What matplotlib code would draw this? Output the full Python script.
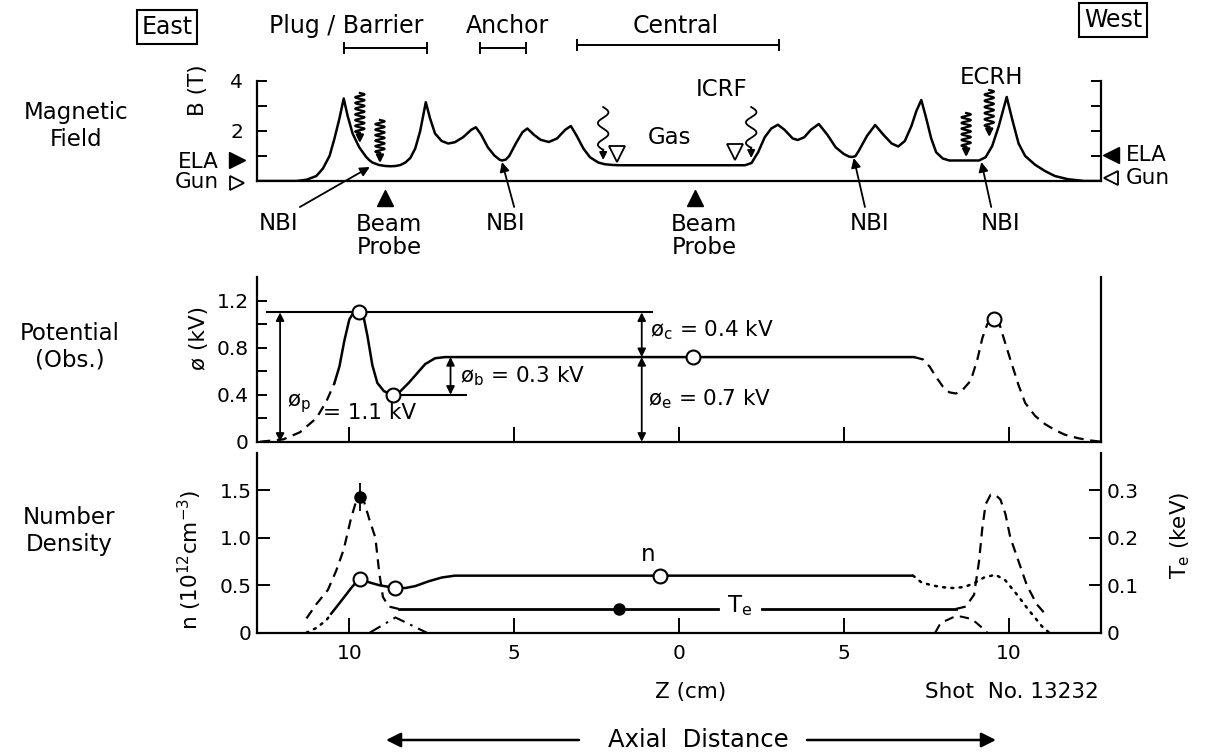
import numpy as np
import matplotlib
matplotlib.use('Agg')
import matplotlib.pyplot as plt

plt.rcParams['font.family'] = 'DejaVu Sans'
plt.rcParams['mathtext.fontset'] = 'dejavusans'

W, H = 1207, 756

# ---- magnetic field profile (z in cm, east < 0) ----
z_b = [-12.8, -11.6, -11.3, -11.0, -10.8, -10.6, -10.45, -10.3, -10.17, -10.05, -9.9, -9.7,
       -9.5, -9.4, -9.3, -9.1, -8.9, -8.75, -8.6, -8.45, -8.3, -8.15, -8.0, -7.85, -7.68,
       -7.55, -7.4, -7.2, -7.0, -6.8, -6.55, -6.3, -6.16, -6.0, -5.8, -5.6, -5.45, -5.37,
       -5.25, -5.15, -4.95, -4.75, -4.6, -4.4, -4.2, -3.95, -3.7, -3.45, -3.28, -3.1, -2.9,
       -2.7, -2.45, -2.25, -2.0, -1.8, 2.0, 2.2, 2.4, 2.6, 2.8, 3.0, 3.2, 3.45, 3.6, 3.8,
       4.0, 4.24, 4.5, 4.75, 5.0, 5.15, 5.24, 5.35, 5.45, 5.7, 5.95, 6.2, 6.45, 6.65, 6.85,
       7.05, 7.2, 7.35, 7.5, 7.65, 7.8, 8.0, 8.2, 9.1, 9.3, 9.5, 9.7, 9.94, 10.1, 10.3,
       10.5, 10.8, 11.1, 11.4, 11.8, 12.3, 12.8]
b_t = [0.0, 0.0, 0.05, 0.2, 0.5, 1.0, 1.7, 2.5, 3.3, 2.6, 1.9, 1.35,
       0.98, 0.84, 0.74, 0.64, 0.6, 0.59, 0.6, 0.64, 0.74, 0.92, 1.3, 2.0, 3.15,
       2.5, 1.9, 1.6, 1.5, 1.55, 1.75, 2.05, 2.15, 1.85, 1.35, 1.02, 0.86, 0.82,
       0.86, 1.0, 1.5, 1.95, 2.1, 1.85, 1.65, 1.56, 1.7, 2.05, 2.2, 1.8, 1.3,
       0.95, 0.74, 0.67, 0.64, 0.63, 0.63, 0.72, 1.15, 1.75, 2.1, 2.25, 2.05, 1.7, 1.64, 1.75,
       2.05, 2.28, 1.85, 1.35, 1.08, 0.98, 0.96, 0.99, 1.2, 1.8, 2.24, 1.85, 1.5, 1.38, 1.6,
       2.2, 2.8, 3.24, 2.5, 1.7, 1.15, 0.9, 0.82, 0.82, 0.95, 1.4, 2.2, 3.36, 2.5, 1.5,
       1.0, 0.65, 0.4, 0.2, 0.07, 0.0, 0.0]

# ---- potential (kV) ----
z_phi_east = [-12.7, -12.0, -11.5, -11.0, -10.7, -10.45]
phi_east = [0.0, 0.02, 0.08, 0.2, 0.34, 0.5]
z_phi_mid = [-10.45, -10.3, -10.15, -10.0, -9.85, -9.7, -9.58, -9.45, -9.3, -9.15, -8.95, -8.7,
             -8.45, -8.2, -7.95, -7.7, -7.4, -7.1, 7.13]
phi_mid = [0.5, 0.64, 0.86, 1.04, 1.11, 1.12, 1.08, 0.9, 0.65, 0.5, 0.43, 0.4,
           0.43, 0.5, 0.58, 0.66, 0.71, 0.72, 0.72]
z_phi_west = [7.13, 7.4, 7.6, 7.8, 8.0, 8.2, 8.4, 8.6, 8.85, 9.05, 9.2, 9.35, 9.53, 9.7,
              9.85, 10.05, 10.3, 10.5, 10.8, 11.1, 11.4, 11.7, 12.1, 12.5, 12.8]
phi_west = [0.72, 0.7, 0.64, 0.55, 0.47, 0.42, 0.41, 0.44, 0.52, 0.7, 0.88, 1.0, 1.06, 1.02,
            0.88, 0.7, 0.48, 0.33, 0.22, 0.15, 0.1, 0.06, 0.03, 0.01, 0.0]
z_phi_obs = [-9.7, -8.68, 0.43, 9.55]
phi_obs = [1.1, 0.4, 0.72, 1.04]

# ---- density (1e12 cm^-3) ----
z_n_east = [-11.3, -11.0, -10.7, -10.55]
n_east = [0.0, 0.05, 0.13, 0.2]
z_n_mid = [-10.55, -10.3, -9.92, -9.69, -9.4, -9.1, -8.6, -8.3, -8.0, -7.6, -7.2, -6.8, 7.07]
n_mid = [0.2, 0.31, 0.48, 0.57, 0.53, 0.5, 0.47, 0.47, 0.49, 0.54, 0.58, 0.6, 0.6]
z_n_west = [7.1, 7.35, 7.65, 7.95, 8.3, 8.65, 8.95, 9.25, 9.6, 9.9, 10.3, 10.6, 10.77, 11.0, 11.23]
n_west = [0.6, 0.53, 0.5, 0.48, 0.47, 0.48, 0.52, 0.58, 0.61, 0.55, 0.38, 0.24, 0.17, 0.07, 0.0]
z_n_obs = [-9.69, -8.6, -0.58]
n_obs = [0.57, 0.47, 0.6]

# ---- electron temperature (keV) ----
z_te_east = [-11.3, -11.0, -10.65, -10.4, -10.17, -9.95, -9.8, -9.69, -9.55, -9.4, -9.21,
             -9.09, -8.98, -8.8, -8.5]
te_east = [0.03, 0.06, 0.09, 0.13, 0.175, 0.24, 0.275, 0.285, 0.275, 0.24, 0.2,
           0.125, 0.075, 0.055, 0.05]
z_te_flat_a = [-8.5, 1.18]
z_te_flat_b = [2.53, 8.4]
te_flat = [0.05, 0.05]
z_te_west = [8.4, 8.7, 8.95, 9.1, 9.2, 9.3, 9.45, 9.6, 9.75, 9.9, 10.05, 10.3, 10.55, 10.85, 11.1]
te_west = [0.05, 0.055, 0.08, 0.15, 0.22, 0.27, 0.29, 0.29, 0.28, 0.25, 0.2, 0.15, 0.1, 0.06, 0.04]
z_te_obs = [-9.69, -1.82]
te_obs = [0.285, 0.05]

# small bumps near the barriers
z_bump_e = [-9.38, -8.6, -7.65]
n_bump_e = [0.0, 0.16, 0.0]
z_bump_w = [7.77, 7.9, 8.05, 8.3, 8.55, 8.8, 9.0, 9.2, 9.35]
n_bump_w = [0.0, 0.08, 0.12, 0.16, 0.17, 0.15, 0.11, 0.05, 0.0]

xticks = [-10, -5, 0, 5, 10]
xticklabels = ['10', '5', '0', '5', '10']


def px(x, y):
    return x / W, 1 - y / H


def box(top, bottom, left=257, right=1101):
    return [left / W, 1 - bottom / H, (right - left) / W, (bottom - top) / H]


fig = plt.figure(figsize=(W / 100, H / 100), dpi=100)
ax1 = fig.add_axes(box(81, 181))
ax2 = fig.add_axes(box(276.7, 441.7))
ax3 = fig.add_axes(box(453, 632.7))
for ax in (ax1, ax2, ax3):
    ax.set_xlim(-12.8, 12.8)
    ax.spines['top'].set_visible(False)
    for s in ax.spines.values():
        s.set_linewidth(1.6)
    ax.tick_params(direction='in', width=1.4, labelsize=14.5)
    ax.patch.set_alpha(0)

K = 'k'
arrow_kw = dict(arrowstyle='-|>', color=K, lw=1.3, mutation_scale=14, shrinkA=0, shrinkB=0)
dbl_kw = dict(arrowstyle='<|-|>', color=K, lw=1.3, mutation_scale=12, shrinkA=0, shrinkB=0)

# ---------------- magnetic field ----------------
ax1.set_ylim(0, 4)
ax1.plot(z_b, b_t, color=K, lw=1.8)
ax1.set_xticks([])
ax1.set_yticks([1, 2, 3, 4])
ax1.set_yticklabels(['', '2', '', '4'])
ax1.tick_params(axis='y', length=7, pad=10, right=True)


def wavy(ax, z, top, bot, amp, waves, lw=1.3):
    # decorative squiggly arrow (RF / ECRH injection symbol)
    head = 0.4
    t = np.linspace(0, 1, 400)
    bb = top - (top - bot - head) * t
    zz = z + amp * np.sin(2 * np.pi * waves * t)
    ax.plot(zz, bb, color=K, lw=lw, clip_on=False)
    ax.annotate('', xy=(z, bot), xytext=(z, bot + head + 0.02),
                arrowprops=dict(arrowstyle='-|>', color=K, lw=lw, mutation_scale=11,
                                shrinkA=0, shrinkB=0), annotation_clip=False)


# ECRH squiggles
wavy(ax1, -9.68, 3.52, 1.52, 0.14, 7, lw=1.6)
wavy(ax1, -9.07, 2.44, 0.72, 0.14, 6, lw=1.6)
wavy(ax1, 8.71, 2.72, 0.96, 0.14, 6, lw=1.6)
wavy(ax1, 9.41, 3.64, 1.76, 0.14, 6, lw=1.6)
# ICRF
wavy(ax1, -2.3, 2.96, 0.84, 0.16, 2)
wavy(ax1, 2.19, 2.96, 0.92, 0.16, 2)
ax1.plot([-1.88, 1.7], [1.08, 1.16], 'v', ms=11, mfc='white', mec=K, mew=1.3, ls='none')
ax1.text(1.3, 3.64, 'ICRF', ha='center', va='center', fontsize=16.5)
ax1.text(-0.3, 1.76, 'Gas', ha='center', va='center', fontsize=16.5)
ax1.text(9.47, 4.16, 'ECRH', ha='center', va='center', fontsize=16.5)

# NBI and beam probes
for (tz, az0, bz, bb) in [(-12.15, -11.5, -9.38, 0.56), (-5.25, -5.0, -5.37, 0.76),
                          (5.77, 5.64, 5.3, 0.92), (9.74, 9.47, 9.17, 0.76)]:
    ax1.annotate('', xy=(bz, bb), xytext=(az0, -1.04), arrowprops=arrow_kw,
                 annotation_clip=False)
    ax1.text(tz, -1.68, 'NBI', ha='center', va='center', fontsize=16.5)
for z0, tz in [(-8.92, -8.8), (0.49, 0.76)]:
    ax1.plot(z0, -0.66, '^', ms=11, color=K, clip_on=False)
    ax1.text(tz, -2.2, 'Beam\nProbe', ha='center', va='center', fontsize=16.5,
             linespacing=1.05)

# ELA / Gun markers
ax1.plot(-13.4, 0.84, '>', ms=11, color=K, clip_on=False)
ax1.plot(-13.4, -0.06, '>', ms=10, mfc='white', mec=K, mew=1.3, clip_on=False)
ax1.text(-13.95, 0.76, 'ELA', ha='right', va='center', fontsize=15.5)
ax1.text(-13.95, -0.06, 'Gun', ha='right', va='center', fontsize=15.5)
ax1.plot(13.1, 1.04, '<', ms=11, color=K, clip_on=False)
ax1.plot(13.1, 0.12, '<', ms=10, mfc='white', mec=K, mew=1.3, clip_on=False)
ax1.text(13.55, 1.04, 'ELA', ha='left', va='center', fontsize=15.5)
ax1.text(13.55, 0.12, 'Gun', ha='left', va='center', fontsize=15.5)

# region brackets
for (a, b, y) in [(-10.17, -7.65, 5.32), (-6.04, -4.64, 5.32), (-3.1, 3.03, 5.44)]:
    ax1.plot([a, b], [y, y], color=K, lw=1.4, marker='|', ms=8, mew=1.4, clip_on=False)
for (z0, s) in [(-10.08, 'Plug / Barrier'), (-5.19, 'Anchor'), (-0.09, 'Central')]:
    ax1.text(z0, 6.2, s, ha='center', va='center', fontsize=17)

# ---------------- potential ----------------
ax2.set_ylim(0, 1.404)
ax2.plot(z_phi_east, phi_east, color=K, lw=1.6, dashes=(4.5, 3))
ax2.plot(z_phi_mid, phi_mid, color=K, lw=1.8)
ax2.plot(z_phi_west, phi_west, color=K, lw=1.6, dashes=(4.5, 3))
ax2.plot([-12.5, -0.82], [1.1, 1.1], color=K, lw=1.5)
ax2.plot([-8.68, -6.45], [0.4, 0.4], color=K, lw=1.5)
ax2.plot(z_phi_obs, phi_obs, 'o', ms=10, mfc='white', mec=K, mew=1.5, zorder=5)
ax2.annotate('', xy=(-12.1, 1.1), xytext=(-12.1, 0.0), arrowprops=dbl_kw)
ax2.annotate('', xy=(-6.93, 0.72), xytext=(-6.93, 0.4), arrowprops=dbl_kw)
ax2.annotate('', xy=(-1.13, 1.1), xytext=(-1.13, 0.72), arrowprops=dbl_kw)
ax2.annotate('', xy=(-1.13, 0.72), xytext=(-1.13, 0.0), arrowprops=dbl_kw)
ax2.text(-11.9, 0.33, 'ø$_\\mathrm{p}$', ha='left', va='center', fontsize=15.5)
ax2.text(-10.8, 0.24, '= 1.1 kV', ha='left', va='center', fontsize=15.5)
ax2.text(-6.65, 0.56, 'ø$_\\mathrm{b}$ = 0.3 kV', ha='left', va='center', fontsize=15.5)
ax2.text(-0.88, 0.95, 'ø$_\\mathrm{c}$ = 0.4 kV', ha='left', va='center', fontsize=15.5)
ax2.text(-0.94, 0.36, 'ø$_\\mathrm{e}$ = 0.7 kV', ha='left', va='center', fontsize=15.5)
ax2.set_yticks([0, 0.4, 0.8, 1.2])
ax2.set_yticklabels(['0', '0.4', '0.8', '1.2'])
ax2.set_yticks([0.2, 0.6, 1.0], minor=True)
ax2.tick_params(axis='y', which='both', length=7, width=1.4, direction='in', pad=6)
ax2.set_xticks(xticks)
ax2.set_xticklabels([])
ax2.tick_params(axis='x', length=11)

# ---------------- density / temperature ----------------
ax3.set_ylim(0, 1.89)
ax3b = ax3.twinx()
ax3b.set_position(ax3.get_position())
ax3b.set_ylim(0, 0.378)
for s in ('top', 'left', 'bottom'):
    ax3b.spines[s].set_visible(False)
ax3b.spines['right'].set_linewidth(1.6)
ax3.spines['right'].set_visible(False)

ax3.plot(z_n_east, n_east, color=K, lw=1.8, ls=(0, (0.8, 2.5)), dash_capstyle='round')
ax3.plot(z_n_mid, n_mid, color=K, lw=1.8)
ax3.plot(z_n_west, n_west, color=K, lw=1.8, ls=(0, (0.8, 2.5)), dash_capstyle='round')
ax3.plot(z_n_obs, n_obs, 'o', ms=10, mfc='white', mec=K, mew=1.5, zorder=5)
ax3.plot(z_bump_e, n_bump_e, color=K, lw=1.5, ls=(0, (6, 3, 1.2, 3)))
ax3.plot(z_bump_w, n_bump_w, color=K, lw=1.5, dashes=(4.5, 3))

ax3b.plot(z_te_east, te_east, color=K, lw=1.6, dashes=(4.5, 3))
ax3b.plot(z_te_flat_a, te_flat, color=K, lw=2.0)
ax3b.plot(z_te_flat_b, te_flat, color=K, lw=2.0)
ax3b.plot(z_te_west, te_west, color=K, lw=1.6, dashes=(4.5, 3))
ax3b.errorbar(z_te_obs[:1], te_obs[:1], yerr=0.03, fmt='o', color=K, ms=8, elinewidth=1.3,
              capsize=0, zorder=6)
ax3b.plot(z_te_obs[1:], te_obs[1:], 'o', color=K, ms=8, zorder=6)

ax3.text(-0.94, 0.82, 'n', ha='center', va='center', fontsize=16.5)
ax3.text(1.84, 0.29, 'T$_\\mathrm{e}$', ha='center', va='center', fontsize=16.5)

ax3.set_yticks([0, 0.5, 1.0, 1.5])
ax3.set_yticklabels(['0', '0.5', '1.0', '1.5'])
ax3.tick_params(axis='y', length=9, pad=4)
ax3.set_xticks(xticks)
ax3.set_xticklabels(xticklabels)
ax3.tick_params(axis='x', length=11, pad=8)
ax3b.set_yticks([0, 0.1, 0.2, 0.3])
ax3b.set_yticklabels(['0', '0.1', '0.2', '0.3'])
ax3b.tick_params(direction='in', length=9, width=1.4, labelsize=14.5, pad=4)

# ---------------- figure labels ----------------
fs = 16.5
fig.text(*px(167, 27), 'East', ha='center', va='center', fontsize=17,
         bbox=dict(boxstyle='square,pad=0.2', fc='white', ec=K, lw=1.5))
fig.text(*px(1113, 20), 'West', ha='center', va='center', fontsize=17,
         bbox=dict(boxstyle='square,pad=0.2', fc='white', ec=K, lw=1.5))
fig.text(*px(76, 126), 'Magnetic\nField', ha='center', va='center', fontsize=fs)
fig.text(*px(70, 347), 'Potential\n(Obs.)', ha='center', va='center', fontsize=fs)
fig.text(*px(69, 531), 'Number\nDensity', ha='center', va='center', fontsize=fs)
fig.text(*px(198, 90), 'B (T)', rotation=90, ha='center', va='center', fontsize=15.5)
fig.text(*px(199, 338), 'ø (kV)', rotation=90, ha='center', va='center', fontsize=15.5)
fig.text(*px(190, 560), 'n (10$^{12}$cm$^{-3}$)', rotation=90, ha='center', va='center',
         fontsize=15.5)
fig.text(*px(1180, 535), 'T$_\\mathrm{e}$ (keV)', rotation=90, ha='center', va='center',
         fontsize=15.5)
fig.text(*px(691, 692), 'Z (cm)', ha='center', va='center', fontsize=15.5)
fig.text(*px(1012, 692), 'Shot  No. 13232', ha='center', va='center', fontsize=15.5)
fig.text(*px(698, 740), 'Axial  Distance', ha='center', va='center', fontsize=17.5)
big_arrow = dict(arrowstyle='-|>', color=K, lw=1.8, mutation_scale=22, shrinkA=0, shrinkB=0)
ax3.annotate('', xy=px(386, 740), xytext=px(579, 740), xycoords='figure fraction',
             textcoords='figure fraction', arrowprops=big_arrow, annotation_clip=False)
ax3.annotate('', xy=px(996, 740), xytext=px(807, 740), xycoords='figure fraction',
             textcoords='figure fraction', arrowprops=big_arrow, annotation_clip=False)

fig.savefig('out.png', dpi=100, facecolor='white')
